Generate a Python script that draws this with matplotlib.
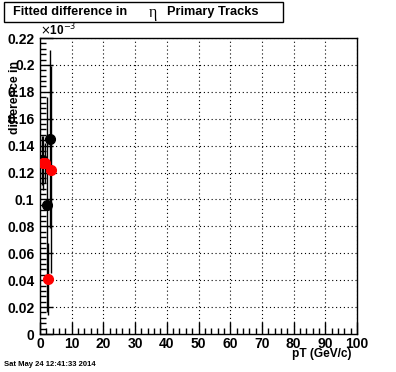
import matplotlib
matplotlib.use("Agg")
import matplotlib.pyplot as plt
from matplotlib.ticker import MultipleLocator

# black series
blk_pt = [0.6, 2.2, 3.2]
blk_val = [0.129, 0.096, 0.145]
blk_err = [0.018, 0.080, 0.066]

# red series
red_pt = [1.1, 1.7, 2.4, 3.6]
red_val = [0.127, 0.127, 0.041, 0.122]
red_err = [0.020, 0.015, 0.027, 0.077]

x_ticks = list(range(0, 101, 10))
y_ticks = [i * 0.02 for i in range(12)]

plt.rcParams['font.family'] = ['Liberation Sans', 'DejaVu Sans']

fig = plt.figure(figsize=(3.96, 3.72), dpi=100, facecolor="white")
ax = fig.add_axes([40 / 396, 1 - 334 / 372, 317 / 396, 296 / 372])

ax.errorbar(blk_pt, blk_val, yerr=blk_err, fmt="o", color="black",
            ms=7, elinewidth=1, capsize=0, zorder=3)
ax.errorbar(red_pt, red_val, yerr=red_err, fmt="o", color="red",
            ecolor="black", ms=7, elinewidth=1, capsize=0, zorder=4)

ax.set_xlim(0, 100)
ax.set_ylim(0, 0.22)
ax.xaxis.set_minor_locator(MultipleLocator(2))
ax.yaxis.set_minor_locator(MultipleLocator(0.004))
ax.set_xticks(x_ticks)
ax.set_xticklabels([str(v) for v in x_ticks])
ax.set_yticks(y_ticks)
ax.set_yticklabels(["0"] + [f"{v:g}" for v in y_ticks[1:]])

ax.tick_params(which="major", direction="in", length=9, width=1,
               labelsize=10, top=False, right=False)
ax.tick_params(axis="y", pad=4)
ax.tick_params(axis="x", pad=2)
ax.tick_params(which="minor", direction="in", length=4.5, width=1,
               top=False, right=False)
for lbl in ax.get_xticklabels() + ax.get_yticklabels():
    lbl.set_fontweight("bold")
ax.grid(which="major", color="black", linestyle=(0, (1, 2.5)), linewidth=0.8)
for s in ax.spines.values():
    s.set_linewidth(1)
ax.set_axisbelow(True)

fig.text(352 / 396, 1 - 354 / 372, "pT (GeV/c)", ha="right", va="center",
         fontsize=8.6, fontweight="bold")
fig.text(15 / 396, 1 - 98 / 372, "difference in", rotation=90, ha="center",
         va="center", fontsize=8.8, fontweight="bold")
fig.text(40 / 396, 1 - 30 / 372, r"$\times$10$^{-3}$", ha="left", va="center",
         fontsize=8.5, fontweight="bold")

fig.text(4 / 396, 1 - 365 / 372, "Sat May 24 12:41:33 2014", ha="left",
         va="center", fontsize=5.5, fontweight="bold")

# title box
fig.patches.append(plt.Rectangle((4 / 396, 1 - 22 / 372), 279 / 396, 20 / 372,
                                 transform=fig.transFigure, fill=True,
                                 facecolor="white", edgecolor="black", lw=1))
fig.text(13 / 396, 1 - 12 / 372, "Fitted difference in", ha="left",
         va="center", fontsize=9.2, fontweight="bold")
fig.text(149 / 396, 1 - 13 / 372, "\u03b7", ha="left", va="center",
         fontsize=11.5, family=["Liberation Serif", "DejaVu Serif"])
fig.text(167 / 396, 1 - 12 / 372, "Primary Tracks", ha="left",
         va="center", fontsize=9.2, fontweight="bold")

fig.savefig("out.png", dpi=100, facecolor="white")
